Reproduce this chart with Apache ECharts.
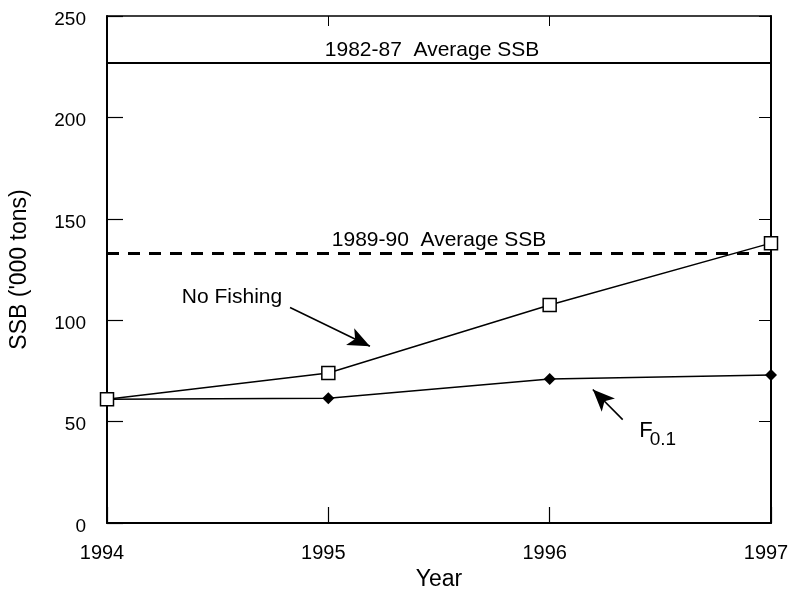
<!DOCTYPE html>
<html>
<head>
<meta charset="utf-8">
<script src="https://cdn.jsdelivr.net/npm/echarts@6/dist/echarts.min.js"></script>
<style>
html,body{margin:0;padding:0;background:#fff;}
#c{width:790px;height:591px;}
</style>
</head>
<body>
<div id="c"></div>
<script>
// ---- data ----
var years = [1994, 1995, 1996, 1997];
var noFishing = [61, 74, 107.5, 138];
var f01 = [61, 61.5, 71, 73];
var avg8287 = 227;
var avg8990 = 133;
var yTicks = [0, 50, 100, 150, 200, 250];
var avg8287Label = '1982-87  Average SSB';
var avg8990Label = '1989-90  Average SSB';
var noFishingLabel = 'No Fishing';
var fLabelMain = 'F';
var fLabelSub = '0.1';
// annotation anchor points (data coordinates)
var noFishingTextAt = [1994.338, 111.2];
var noFishingArrow = [[1994.827, 106.3], [1995.188, 87.2]];
var fTextAt = [1996.405, 45.2];
var fSubAt = [1996.452, 41.2];
var fArrow = [[1996.330, 51.0], [1996.195, 65.8]];

var FONT = 'Liberation Sans';
var chart = echarts.init(document.getElementById('c'), null, {renderer: 'canvas'});

function pairs(xs, ys) { return xs.map(function (x, i) { return [x, ys[i]]; }); }

var option = {
  animation: false,
  backgroundColor: '#fff',
  textStyle: {fontFamily: FONT, color: '#000'},
  grid: {left: 107, right: 19, top: 16, bottom: 68, containLabel: false, outerBoundsMode: 'none'},
  xAxis: [{
    type: 'value', min: years[0], max: years[years.length - 1], interval: 1,
    position: 'bottom',
    name: 'Year', nameLocation: 'middle', nameGap: 45,
    nameTextStyle: {fontFamily: FONT, fontSize: 23, color: '#000'},
    axisLine: {show: true, onZero: false, lineStyle: {color: '#000', width: 2}},
    axisTick: {show: true, inside: true, length: 16, lineStyle: {color: '#000', width: 1.2}},
    axisLabel: {show: true, margin: 20, fontFamily: FONT, fontSize: 20, color: '#000',
      padding: [0, 10, 0, 0],
      formatter: function (v) { return String(v); }},
    splitLine: {show: false}
  }, {
    type: 'value', min: years[0], max: years[years.length - 1], interval: 1,
    position: 'top',
    axisLine: {show: true, onZero: false, lineStyle: {color: '#000', width: 1.5}},
    axisTick: {show: true, inside: true, length: 10, lineStyle: {color: '#000', width: 1}},
    axisLabel: {show: false},
    splitLine: {show: false}
  }],
  yAxis: [{
    type: 'value', min: yTicks[0], max: yTicks[yTicks.length - 1], interval: 50,
    position: 'left',
    name: "SSB ('000 tons)", nameLocation: 'middle', nameGap: 76,
    nameTextStyle: {fontFamily: FONT, fontSize: 23, color: '#000'},
    axisLine: {show: true, onZero: false, lineStyle: {color: '#000', width: 2}},
    axisTick: {show: true, inside: true, length: 16, lineStyle: {color: '#000', width: 1.2}},
    axisLabel: {show: true, margin: 21, fontFamily: FONT, fontSize: 19, color: '#000',
      verticalAlign: 'top', lineHeight: 19, padding: [-6, 0, 0, 0]},
    splitLine: {show: false}
  }, {
    type: 'value', min: yTicks[0], max: yTicks[yTicks.length - 1], interval: 50,
    position: 'right',
    axisLine: {show: true, onZero: false, lineStyle: {color: '#000', width: 2}},
    axisTick: {show: true, inside: true, length: 12, lineStyle: {color: '#000', width: 1}},
    axisLabel: {show: false},
    splitLine: {show: false}
  }],
  series: [{
    name: 'refs', type: 'line', data: [], silent: true,
    markLine: {
      silent: true, symbol: ['none', 'none'],
      data: [
        {yAxis: avg8287, lineStyle: {color: '#000', width: 2, type: 'solid'},
          label: {show: true, position: 'middle', distance: 2, formatter: avg8287Label,
            fontFamily: FONT, fontSize: 21, color: '#000', padding: [0, 14, 0, 0]}},
        {yAxis: avg8990, lineStyle: {color: '#000', width: 3, type: [12, 9]},
          label: {show: true, position: 'middle', distance: 3, formatter: avg8990Label,
            fontFamily: FONT, fontSize: 21, color: '#000'}}
      ]
    }
  }, {
    name: 'arrows', type: 'line', data: [], silent: true,
    markLine: {
      silent: true, symbol: ['none', 'arrow'], symbolSize: [14, 22],
      lineStyle: {color: '#000', width: 1.6, type: 'solid'},
      label: {show: false},
      data: [
        [{coord: noFishingArrow[0]}, {coord: noFishingArrow[1]}],
        [{coord: fArrow[0]}, {coord: fArrow[1]}]
      ]
    },
    markPoint: {
      silent: true, symbol: 'circle', symbolSize: 0,
      data: [
        {coord: noFishingTextAt, label: {show: true, position: 'right', distance: 0, formatter: noFishingLabel,
          fontFamily: FONT, fontSize: 21, color: '#000'}},
        {coord: fTextAt, label: {show: true, position: 'right', distance: 0, formatter: fLabelMain,
          fontFamily: FONT, fontSize: 22, color: '#000'}},
        {coord: fSubAt, label: {show: true, position: 'right', distance: 0, formatter: fLabelSub,
          fontFamily: FONT, fontSize: 19, color: '#000'}}
      ]
    }
  }, {
    name: 'F0.1', type: 'line', data: pairs(years, f01),
    symbol: 'diamond', symbolSize: 12, z: 3,
    lineStyle: {color: '#000', width: 1.5},
    itemStyle: {color: '#000'}
  }, {
    name: 'No Fishing', type: 'line', data: pairs(years, noFishing),
    symbol: 'rect', symbolSize: 13, z: 4,
    lineStyle: {color: '#000', width: 1.5},
    itemStyle: {color: '#fff', borderColor: '#000', borderWidth: 1.5}
  }]
};
chart.setOption(option);
</script>
</body>
</html>
